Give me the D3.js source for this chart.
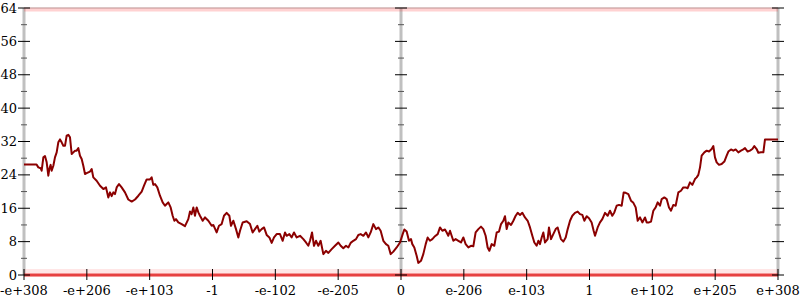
<!DOCTYPE html>
<html>
<head>
<meta charset="utf-8">
<script src="https://cdn.jsdelivr.net/npm/d3@7"></script>
<style>
  body { margin: 0; background: #fff; }
  text { font-family: "DejaVu Serif", serif; font-size: 13px; fill: #000; }
</style>
</head>
<body>
<svg id="chart" width="800" height="300"></svg>
<script>
// tick labels along x (one per unit of the index scale)
const xTickLabels = ["-e+308", "-e+206", "-e+103", "-1", "-e-102", "-e-205", "0",
  "e-206", "e-103", "1", "e+102", "e+205", "e+308"];
const yMajor = [0, 8, 16, 24, 32, 40, 48, 56, 64];
const yMinor = [4, 12, 20, 28, 36, 44, 52, 60];

// series: position on the index scale, value
const pos = [0, 0.20, 0.228, 0.265, 0.281, 0.308, 0.334, 0.361, 0.387, 0.403, 0.424, 0.440, 0.467, 0.493, 0.520, 0.546, 0.573, 0.599, 0.626, 0.653,
  0.679, 0.706, 0.732, 0.759, 0.785, 0.812, 0.838, 0.865, 0.891, 0.918, 0.944, 0.971, 0.997, 1.050, 1.077, 1.103, 1.156, 1.210, 1.263, 1.305,
  1.342, 1.369, 1.395, 1.422, 1.448, 1.475, 1.512, 1.554, 1.607, 1.660, 1.714, 1.767, 1.820, 1.873, 1.910, 1.952, 2.005, 2.032, 2.058, 2.085,
  2.122, 2.164, 2.207, 2.244, 2.271, 2.297, 2.334, 2.366, 2.393, 2.419, 2.456, 2.509, 2.562, 2.615, 2.642, 2.668, 2.695, 2.721, 2.748, 2.775,
  2.801, 2.844, 2.881, 2.934, 2.987, 3.013, 3.066, 3.103, 3.146, 3.183, 3.225, 3.268, 3.294, 3.332, 3.374, 3.411, 3.438, 3.480, 3.544, 3.597,
  3.639, 3.676, 3.714, 3.745, 3.782, 3.820, 3.862, 3.905, 3.942, 3.979, 4.021, 4.074, 4.117, 4.154, 4.180, 4.223, 4.260, 4.297, 4.340, 4.393,
  4.446, 4.488, 4.525, 4.552, 4.584, 4.615, 4.647, 4.684, 4.721, 4.764, 4.806, 4.844, 4.897, 4.950, 5.003, 5.040, 5.082, 5.125, 5.162, 5.199,
  5.241, 5.284, 5.321, 5.358, 5.401, 5.443, 5.480, 5.517, 5.560, 5.602, 5.639, 5.676, 5.719, 5.761, 5.798, 5.836, 5.878, 5.931, 5.984, 6.027,
  6.053, 6.090, 6.127, 6.159, 6.180, 6.212, 6.249, 6.276, 6.318, 6.355, 6.393, 6.424, 6.461, 6.499, 6.541, 6.584, 6.621, 6.658, 6.700, 6.727,
  6.753, 6.780, 6.806, 6.833, 6.870, 6.913, 6.955, 6.992, 7.029, 7.072, 7.114, 7.151, 7.188, 7.231, 7.273, 7.310, 7.347, 7.379, 7.406, 7.443,
  7.485, 7.523, 7.560, 7.592, 7.629, 7.655, 7.682, 7.708, 7.751, 7.788, 7.825, 7.857, 7.894, 7.931, 7.973, 8.016, 8.053, 8.090, 8.122, 8.159,
  8.186, 8.212, 8.239, 8.265, 8.292, 8.334, 8.355, 8.387, 8.424, 8.462, 8.493, 8.515, 8.546, 8.584, 8.621, 8.653, 8.690, 8.727, 8.769, 8.812,
  8.849, 8.886, 8.918, 8.955, 8.992, 9.034, 9.066, 9.088, 9.130, 9.167, 9.204, 9.247, 9.289, 9.326, 9.363, 9.395, 9.432, 9.469, 9.512, 9.544,
  9.576, 9.618, 9.660, 9.698, 9.735, 9.767, 9.804, 9.841, 9.883, 9.910, 9.947, 9.979, 10.016, 10.053, 10.085, 10.122, 10.149, 10.191, 10.228, 10.265,
  10.297, 10.334, 10.371, 10.414, 10.456, 10.493, 10.531, 10.562, 10.599, 10.637, 10.679, 10.706, 10.732, 10.759, 10.785, 10.828, 10.865, 10.902, 10.944, 10.971,
  10.997, 11.024, 11.061, 11.103, 11.146, 11.183, 11.210, 11.252, 11.289, 11.326, 11.369, 11.411, 11.448, 11.475, 11.517, 11.554, 11.592, 11.623, 11.660, 11.687,
  11.729, 11.767, 11.793, 12.0];
const bits = [26.5, 26.5, 25.8, 25.6, 25.0, 28.2, 28.5, 27.0, 23.8, 25.4, 26.4, 25.0, 26.2, 28.2, 29.4, 31.8, 32.5, 31.8, 31.0, 31.0,
  33.4, 33.6, 33.0, 29.0, 29.4, 29.8, 29.8, 30.4, 28.6, 27.8, 26.2, 24.2, 24.4, 24.8, 25.4, 23.4, 22.6, 21.4, 20.6, 21.0,
  18.6, 19.8, 18.9, 19.8, 19.4, 21.0, 21.8, 21.0, 19.8, 18.1, 17.6, 18.1, 19.0, 20.0, 21.4, 22.9, 22.9, 23.4, 21.6, 21.8,
  21.0, 19.0, 17.4, 16.6, 17.0, 17.4, 16.2, 14.2, 13.0, 13.4, 12.6, 12.2, 11.7, 13.4, 15.2, 14.6, 16.2, 14.2, 16.2, 15.0,
  14.2, 13.0, 13.8, 13.0, 11.8, 12.0, 10.2, 11.8, 12.2, 14.2, 14.9, 14.2, 11.8, 13.0, 11.0, 9.0, 10.6, 12.6, 12.9, 12.2,
  10.2, 11.0, 11.8, 10.4, 11.0, 11.4, 9.6, 9.0, 7.7, 9.0, 9.8, 9.8, 8.2, 10.2, 9.4, 9.8, 9.0, 10.2, 9.0, 9.4,
  8.6, 7.8, 7.0, 8.2, 10.2, 7.0, 8.2, 7.0, 8.2, 5.0, 5.8, 5.3, 6.2, 7.0, 7.8, 7.0, 6.4, 7.0, 6.6, 7.7,
  8.2, 8.6, 9.6, 9.8, 9.4, 10.2, 9.0, 10.2, 12.2, 11.0, 11.4, 10.6, 8.2, 7.4, 7.0, 5.0, 5.6, 6.6, 7.8, 9.8,
  10.9, 10.4, 8.2, 8.6, 7.4, 6.6, 4.6, 2.9, 3.4, 5.0, 7.4, 9.0, 8.2, 8.6, 9.3, 9.8, 11.4, 10.6, 10.9, 10.2,
  9.4, 10.6, 9.4, 8.2, 8.6, 8.2, 7.8, 9.0, 7.4, 6.6, 7.0, 6.9, 10.2, 11.0, 11.6, 11.0, 9.4, 6.6, 5.8, 7.4,
  7.0, 10.2, 10.4, 12.2, 13.0, 14.1, 11.0, 12.6, 12.0, 13.0, 14.2, 14.9, 14.4, 14.9, 13.8, 13.0, 11.4, 9.4, 7.8, 7.0,
  8.2, 7.4, 9.0, 10.2, 7.8, 8.6, 11.4, 8.6, 9.8, 11.0, 11.4, 10.2, 8.6, 8.0, 9.0, 11.0, 13.0, 14.2, 14.9, 15.2,
  14.6, 14.4, 13.0, 14.1, 13.6, 12.6, 10.6, 9.4, 11.4, 12.6, 13.4, 14.9, 14.2, 15.4, 14.2, 15.0, 16.6, 16.8, 16.6, 19.8,
  19.7, 19.4, 17.8, 17.3, 16.2, 13.0, 13.8, 12.6, 13.8, 12.6, 12.6, 12.8, 15.4, 16.2, 17.4, 16.6, 18.2, 18.6, 18.2, 16.2,
  15.4, 16.8, 16.6, 19.8, 20.2, 21.0, 21.0, 20.8, 22.2, 21.6, 23.0, 23.4, 24.0, 25.8, 28.6, 29.4, 29.8, 29.6, 30.2, 30.9,
  28.2, 27.0, 26.4, 26.6, 27.2, 28.6, 29.6, 30.1, 29.8, 30.1, 29.4, 29.8, 30.1, 30.4, 29.6, 29.8, 30.2, 30.9, 30.2, 29.3,
  29.4, 29.4, 32.5, 32.5];

// hits stuck at the value limits (start and end of each band on the index scale)
const zeroBand = [0, 12];
const topBand = [0, 12];

const svg = d3.select('#chart')
const x = d3.scaleLinear().domain([0, xTickLabels.length - 1]).range([24, 778])
const y = d3.scaleLinear().domain([0, 64]).range([275, 8])
const axisXs = [0, 6, 12]

// frame
svg.selectAll('.vaxis').data(axisXs).enter().append('line')
  .attr('x1', d => x(d)).attr('x2', d => x(d))
  .attr('y1', y(64)).attr('y2', y(0))
  .attr('stroke', '#c0c0c0').attr('stroke-width', 3)
svg.selectAll('.haxis').data([0, 64]).enter().append('line')
  .attr('x1', x(0)).attr('x2', x(12))
  .attr('y1', d => y(d)).attr('y2', d => y(d))
  .attr('stroke', '#b0b0b0').attr('stroke-width', 1)

// bands of saturated points
const band = (v) => d3.line().x(d => x(d)).y(() => y(v))
svg.append('path').attr('d', band(0)(zeroBand)).attr('fill', 'none')
  .attr('stroke', '#ff3030').attr('stroke-opacity', 0.12).attr('stroke-width', 8)
  .attr('transform', 'translate(0,-2)')
svg.append('path').attr('d', band(0)(zeroBand)).attr('fill', 'none')
  .attr('stroke', '#e82a2a').attr('stroke-opacity', 0.85).attr('stroke-width', 3)
svg.append('path').attr('d', band(64)(topBand)).attr('fill', 'none')
  .attr('stroke', '#ff3030').attr('stroke-opacity', 0.22).attr('stroke-width', 4)
  .attr('transform', 'translate(0,1.5)')

// ticks on the three vertical axes
axisXs.forEach(function (a) {
  svg.selectAll(null).data(yMinor).enter().append('line')
    .attr('x1', x(a) - 3).attr('x2', x(a) + 3)
    .attr('y1', d => y(d)).attr('y2', d => y(d))
    .attr('stroke', '#555').attr('stroke-width', 1)
  svg.selectAll(null).data(yMajor).enter().append('line')
    .attr('x1', x(a) - 6).attr('x2', x(a) + 6)
    .attr('y1', d => y(d)).attr('y2', d => y(d))
    .attr('stroke', '#000').attr('stroke-width', 1)
})

// x ticks
svg.selectAll('.xtick').data(xTickLabels).enter().append('line')
  .attr('x1', (d, i) => x(i)).attr('x2', (d, i) => x(i))
  .attr('y1', y(0) - 6).attr('y2', y(0) + 5)
  .attr('stroke', '#000').attr('stroke-width', 1)

// the series
const line = d3.line()
  .x(d => x(d[0]))
  .y(d => y(d[1]))
svg.append('path')
  .attr('d', line(d3.zip(pos, bits)))
  .attr('fill', 'none')
  .attr('stroke', '#8b0000')
  .attr('stroke-width', 2)
  .attr('stroke-linejoin', 'round')

// labels
svg.selectAll('.ylabel').data(yMajor).enter().append('text')
  .attr('x', 17).attr('y', d => y(d) + 4.5)
  .attr('text-anchor', 'end')
  .text(d => d)
svg.selectAll('.xlabel').data(xTickLabels).enter().append('text')
  .attr('x', (d, i) => x(i)).attr('y', 295)
  .attr('text-anchor', 'middle')
  .text(d => d)
</script>
</body>
</html>
